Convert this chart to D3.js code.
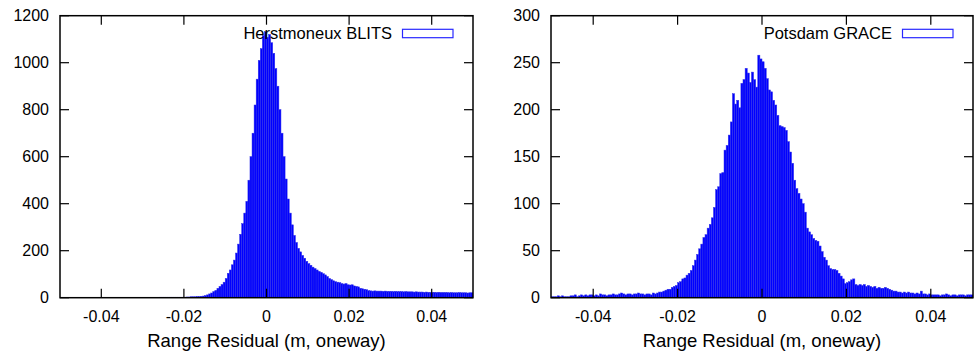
<!DOCTYPE html>
<html>
<head>
<meta charset="utf-8">
<script src="https://cdn.jsdelivr.net/npm/d3@7"></script>
<style>
  html, body { margin: 0; padding: 0; background: #fff; }
  svg { display: block; }
  text { font-family: "Liberation Sans", Arial, Helvetica, sans-serif; fill: #000; }
</style>
</head>
<body>
<div id="chart"></div>
<script>
// histogram bins: 0.5 mm wide, from -0.05 to 0.05 m
const binStart = -0.05;
const binWidth = 0.0005;
const xTicks = [-0.04, -0.02, 0, 0.02, 0.04];
const xTickLabels = ["-0.04", "-0.02", "0", "0.02", "0.04"];

// Herstmonceux / BLITS counts per bin
const herstCounts = [
  0,0,0,0,0,0,0,0,0,0, 0,0,0,0,0,0,0,0,0,0,
  0,0,0,0,0,0,0,0,0,0, 0,0,0,0,0,0,0,0,0,0,
  0,1,1,1,1,1,1,1,2,2, 2,2,2,2,2,2,2,2,2,2,
  2,3,3,4,4,4,5,5,6,7, 9,12,16,20,26,31,40,48,56,66,
  82,104,118,140,160,190,228,270,315,360, 410,500,600,700,820,930,1010,1060,1115,1132,
  1108,1120,1085,1040,975,900,800,700,600,505, 420,360,310,265,235,210,195,180,168,155,
  145,138,130,124,118,112,108,102,97,90, 82,77,72,68,66,64,60,58,60,55,
  54,55,50,48,46,40,38,36,34,30, 29,28,29,28,28,28,27,28,27,27,
  27,26,27,26,26,26,25,26,25,25, 25,24,25,24,24,24,23,24,23,23,
  23,23,22,23,22,22,22,22,21,22, 21,21,21,22,21,21,21,20,21,21
];
const herstYTicks = [0, 200, 400, 600, 800, 1000, 1200];

// Potsdam / GRACE counts per bin
const potsCounts = [
  1,1,1,2,1,2,1,1,1,2, 2,3,1,2,3,2,3,2,3,3,
  2,3,2,4,3,3,2,3,3,4, 3,3,4,5,4,3,4,4,3,4,
  4,5,4,4,3,4,4,3,5,4, 5,6,6,7,8,9,9,11,12,13,
  16,17,20,21,24,26,29,34,40,46, 52,57,64,67,74,78,85,96,115,118,
  132,133,157,162,173,187,217,206,210,202, 228,232,244,239,229,240,232,224,258,254,
  251,244,233,221,219,210,205,194,183,182, 181,178,166,155,143,125,116,111,105,100,
  91,74,70,67,63,61,60,55,49,43, 40,34,31,30,30,29,26,23,20,15,
  16,17,19,20,14,13,14,13,14,12, 13,12,11,12,10,11,10,10,11,10,
  9,8,7,7,6,6,5,6,5,6, 5,5,4,5,4,7,4,4,3,4,
  3,3,3,3,2,3,3,4,3,2, 3,3,2,3,3,3,2,3,3,3
];
const potsYTicks = [0, 50, 100, 150, 200, 250, 300];

const panels = [
  { name: "Herstmoneux BLITS", counts: herstCounts, yMax: 1200, yTicks: herstYTicks, left: 60, right: 473 },
  { name: "Potsdam GRACE", counts: potsCounts, yMax: 300, yTicks: potsYTicks, left: 551, right: 973 }
];

const W = 975, H = 354;
const plotTop = 15.7, plotBottom = 297.7;
const tickLen = 9;

const svg = d3.select("#chart")
  .append("svg")
  .attr("width", W)
  .attr("height", H);

panels.forEach((p, k) => {
  const x = d3.scaleLinear().domain([-0.05, 0.05]).range([p.left, p.right]);
  const y = d3.scaleLinear().domain([0, p.yMax]).range([plotBottom, plotTop]);
  const g = svg.append("g");

  g.append("clipPath")
    .attr("id", "clip" + k)
    .append("rect")
    .attr("x", p.left).attr("y", plotTop)
    .attr("width", p.right - p.left).attr("height", plotBottom - plotTop);

  // bars
  g.append("g")
    .attr("clip-path", `url(#clip${k})`)
    .selectAll("rect")
    .data(p.counts)
    .enter()
    .append("rect")
    .attr("x", (d, i) => x(binStart + i * binWidth))
    .attr("width", (d, i) => x(binStart + (i + 1) * binWidth) - x(binStart + i * binWidth))
    .attr("y", d => y(d))
    .attr("height", d => y(0) - y(d))
    .style("fill", "#0000ff")
    .style("stroke", "#3030e8")
    .style("stroke-width", 0.5);

  // border
  g.append("rect")
    .attr("x", p.left).attr("y", plotTop)
    .attr("width", p.right - p.left).attr("height", plotBottom - plotTop)
    .style("fill", "none")
    .style("stroke", "#000")
    .style("stroke-width", 1.5);

  // x ticks, inward on bottom and top
  xTicks.forEach((t, i) => {
    g.append("line")
      .attr("x1", x(t)).attr("x2", x(t))
      .attr("y1", plotBottom).attr("y2", plotBottom - tickLen)
      .style("stroke", "#000").style("stroke-width", 1.2);
    g.append("line")
      .attr("x1", x(t)).attr("x2", x(t))
      .attr("y1", plotTop).attr("y2", plotTop + tickLen)
      .style("stroke", "#000").style("stroke-width", 1.2);
    g.append("text")
      .attr("x", x(t))
      .attr("y", 321.5)
      .attr("text-anchor", "middle")
      .style("font-size", "16px")
      .text(xTickLabels[i]);
  });

  // y ticks, inward on left and right
  p.yTicks.forEach(t => {
    g.append("line")
      .attr("x1", p.left).attr("x2", p.left + tickLen)
      .attr("y1", y(t)).attr("y2", y(t))
      .style("stroke", "#000").style("stroke-width", 1.2);
    g.append("line")
      .attr("x1", p.right).attr("x2", p.right - tickLen)
      .attr("y1", y(t)).attr("y2", y(t))
      .style("stroke", "#000").style("stroke-width", 1.2);
    g.append("text")
      .attr("x", p.left - 11)
      .attr("y", y(t))
      .attr("dy", "0.36em")
      .attr("text-anchor", "end")
      .style("font-size", "16px")
      .text(t);
  });

  // x label
  g.append("text")
    .attr("x", (p.left + p.right) / 2)
    .attr("y", 346.5)
    .attr("text-anchor", "middle")
    .style("font-size", "18.5px")
    .text("Range Residual (m, oneway)");

  // legend
  g.append("text")
    .attr("x", p.right - 81)
    .attr("y", 39.3)
    .attr("text-anchor", "end")
    .style("font-size", "16.5px")
    .text(p.name);
  g.append("rect")
    .attr("x", p.right - 70.5)
    .attr("y", 29.3)
    .attr("width", 50.5)
    .attr("height", 8.4)
    .style("fill", "#fff")
    .style("stroke", "#2828ff")
    .style("stroke-width", 1.2);
});
</script>
</body>
</html>
